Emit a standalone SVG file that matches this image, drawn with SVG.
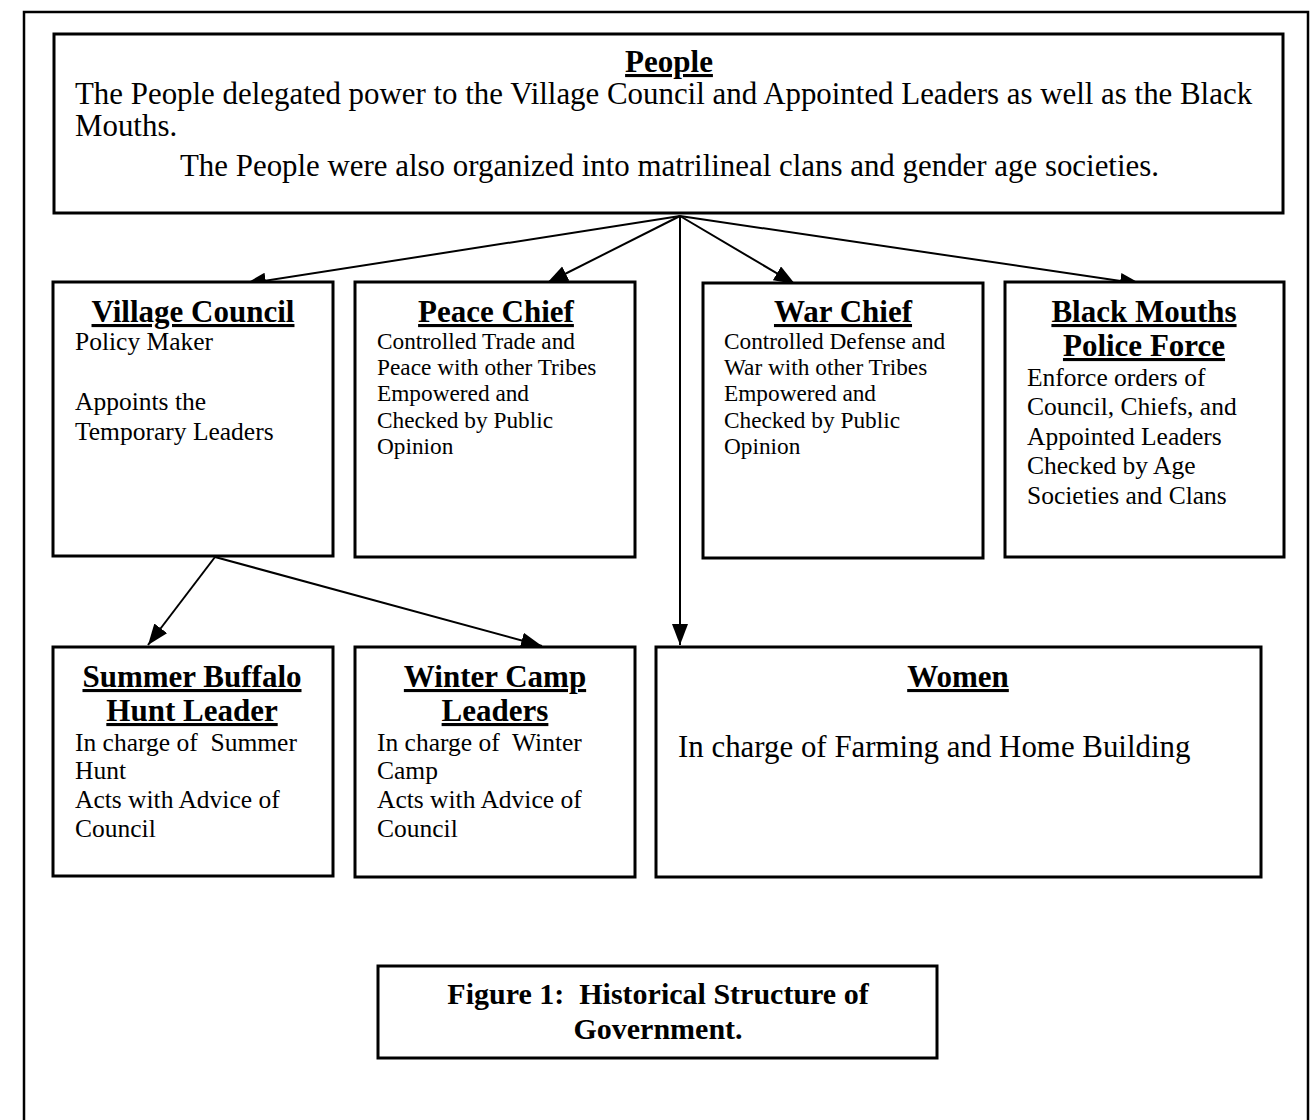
<svg xmlns="http://www.w3.org/2000/svg" width="1314" height="1120" viewBox="0 0 1314 1120">
<defs>
<style>
.box{fill:#fff;stroke:#000;stroke-width:3}
.t{font-family:"Liberation Serif","Times New Roman",serif;fill:#000;white-space:pre}
.ti{font-weight:bold;font-size:31px;text-decoration:underline;text-anchor:middle}
.bp{font-size:30.9px}
.b{font-size:25.5px}
.bs{font-size:23.3px}
.fc{font-weight:bold;font-size:30px;text-anchor:middle}
.c{stroke:#000;stroke-width:2;fill:none;marker-end:url(#ah)}
</style>
<marker id="ah" markerUnits="userSpaceOnUse" markerWidth="24" markerHeight="18" refX="21" refY="8" orient="auto">
<path d="M0,0 L21,8 L0,16 Z" fill="#000"/>
</marker>
</defs>
<rect width="1314" height="1120" fill="#fff"/>
<path d="M24,1120 V12 H1308 V1120" fill="none" stroke="#000" stroke-width="2.5"/>

<g id="connectors">
<line class="c" x1="680" y1="216" x2="245" y2="284"/>
<line class="c" x1="680" y1="216" x2="547" y2="283"/>
<line class="c" x1="680" y1="216" x2="680" y2="645"/>
<line class="c" x1="680" y1="216" x2="795" y2="284"/>
<line class="c" x1="680" y1="216" x2="1141" y2="284"/>
<line class="c" x1="215" y1="557" x2="148" y2="645"/>
<line class="c" x1="215" y1="557" x2="542" y2="646"/>
</g>

<g id="people">
<rect class="box" x="54" y="34" width="1229" height="179"/>
<text class="t ti" x="669" y="72">People</text>
<text class="t bp" x="75" y="104">The People delegated power to the Village Council and Appointed Leaders as well as the Black</text>
<text class="t bp" x="75" y="136">Mouths.</text>
<text class="t bp" x="180" y="176">The People were also organized into matrilineal clans and gender age societies.</text>
</g>

<g id="village-council">
<rect class="box" x="53" y="282" width="280" height="274"/>
<text class="t ti" x="193" y="322">Village Council</text>
<text class="t b" x="75" y="350">Policy Maker</text>
<text class="t b" x="75" y="410">Appoints the</text>
<text class="t b" x="75" y="440">Temporary Leaders</text>
</g>

<g id="peace-chief">
<rect class="box" x="355" y="282" width="280" height="275"/>
<text class="t ti" x="496" y="322">Peace Chief</text>
<text class="t bs" x="377" y="349">Controlled Trade and</text>
<text class="t bs" x="377" y="375">Peace with other Tribes</text>
<text class="t bs" x="377" y="401">Empowered and</text>
<text class="t bs" x="377" y="428">Checked by Public</text>
<text class="t bs" x="377" y="454">Opinion</text>
</g>

<g id="war-chief">
<rect class="box" x="703" y="283" width="280" height="275"/>
<text class="t ti" x="843" y="322">War Chief</text>
<text class="t bs" x="724" y="349">Controlled Defense and</text>
<text class="t bs" x="724" y="375">War with other Tribes</text>
<text class="t bs" x="724" y="401">Empowered and</text>
<text class="t bs" x="724" y="428">Checked by Public</text>
<text class="t bs" x="724" y="454">Opinion</text>
</g>

<g id="black-mouths">
<rect class="box" x="1005" y="282" width="279" height="275"/>
<text class="t ti" x="1144" y="322">Black Mouths</text>
<text class="t ti" x="1144" y="356">Police Force</text>
<text class="t b" x="1027" y="386">Enforce orders of</text>
<text class="t b" x="1027" y="415">Council, Chiefs, and</text>
<text class="t b" x="1027" y="445">Appointed Leaders</text>
<text class="t b" x="1027" y="474">Checked by Age</text>
<text class="t b" x="1027" y="504">Societies and Clans</text>
</g>

<g id="summer-buffalo-hunt-leader">
<rect class="box" x="53" y="647" width="280" height="229"/>
<text class="t ti" x="192" y="687">Summer Buffalo</text>
<text class="t ti" x="192" y="721">Hunt Leader</text>
<text class="t b" x="75" y="751">In charge of  Summer</text>
<text class="t b" x="75" y="779">Hunt</text>
<text class="t b" x="75" y="808">Acts with Advice of</text>
<text class="t b" x="75" y="837">Council</text>
</g>

<g id="winter-camp-leaders">
<rect class="box" x="355" y="647" width="280" height="230"/>
<text class="t ti" x="495" y="687">Winter Camp</text>
<text class="t ti" x="495" y="721">Leaders</text>
<text class="t b" x="377" y="751">In charge of  Winter</text>
<text class="t b" x="377" y="779">Camp</text>
<text class="t b" x="377" y="808">Acts with Advice of</text>
<text class="t b" x="377" y="837">Council</text>
</g>

<g id="women">
<rect class="box" x="656" y="647" width="605" height="230"/>
<text class="t ti" x="958" y="687">Women</text>
<text class="t bp" x="678" y="757">In charge of Farming and Home Building</text>
</g>

<g id="figure-caption">
<rect class="box" x="378" y="966" width="559" height="92"/>
<text class="t fc" x="658" y="1004">Figure 1:  Historical Structure of</text>
<text class="t fc" x="658" y="1039">Government.</text>
</g>
</svg>
